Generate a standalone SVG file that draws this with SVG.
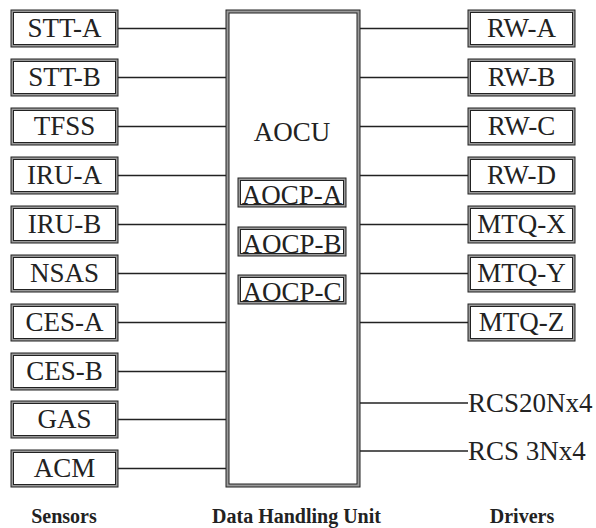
<svg xmlns="http://www.w3.org/2000/svg" width="596" height="528" viewBox="0 0 596 528">
<style>
.o{fill:#9a9a9a;stroke:#222;stroke-width:1}
.i{fill:#fff;stroke:#222;stroke-width:1}
.t{font-family:"Liberation Serif","Times New Roman",serif;font-size:27px;fill:#222;text-anchor:middle}
.tl{font-family:"Liberation Serif","Times New Roman",serif;font-size:27px;fill:#222;text-anchor:start}
.b{font-family:"Liberation Serif","Times New Roman",serif;font-size:20px;font-weight:bold;fill:#222;text-anchor:middle}
.c{stroke:#222;stroke-width:1.6;fill:none}
</style>
<rect width="596" height="528" fill="#fff"/>
<g id="connectors">
<line class="c" x1="118" y1="28.5" x2="226" y2="28.5"/>
<line class="c" x1="118" y1="77.5" x2="226" y2="77.5"/>
<line class="c" x1="118" y1="126.5" x2="226" y2="126.5"/>
<line class="c" x1="118" y1="175.5" x2="226" y2="175.5"/>
<line class="c" x1="118" y1="224.5" x2="226" y2="224.5"/>
<line class="c" x1="118" y1="273.5" x2="226" y2="273.5"/>
<line class="c" x1="118" y1="322.5" x2="226" y2="322.5"/>
<line class="c" x1="118" y1="371.5" x2="226" y2="371.5"/>
<line class="c" x1="118" y1="419.5" x2="226" y2="419.5"/>
<line class="c" x1="118" y1="468.5" x2="226" y2="468.5"/>
<line class="c" x1="360" y1="28.5" x2="468" y2="28.5"/>
<line class="c" x1="360" y1="77.5" x2="468" y2="77.5"/>
<line class="c" x1="360" y1="126.5" x2="468" y2="126.5"/>
<line class="c" x1="360" y1="175.5" x2="468" y2="175.5"/>
<line class="c" x1="360" y1="224.5" x2="468" y2="224.5"/>
<line class="c" x1="360" y1="273.5" x2="468" y2="273.5"/>
<line class="c" x1="360" y1="322.5" x2="468" y2="322.5"/>
<line class="c" x1="360" y1="403" x2="468" y2="403"/>
<line class="c" x1="360" y1="451" x2="468" y2="451"/>
</g>
<g id="dhu">
<rect class="o" x="226" y="10" width="134" height="477"/>
<rect class="i" x="229" y="13" width="128" height="471"/>
<text class="t" x="292" y="141">AOCU</text>
</g>
<g id="aocp-a"><rect class="o" x="238" y="178" width="108" height="29"/><rect class="i" x="240.5" y="180.5" width="103" height="24"/><text class="t" x="292" y="204">AOCP-A</text></g>
<g id="aocp-b"><rect class="o" x="238" y="227" width="108" height="29"/><rect class="i" x="240.5" y="229.5" width="103" height="24"/><text class="t" x="292" y="253">AOCP-B</text></g>
<g id="aocp-c"><rect class="o" x="238" y="275" width="108" height="29"/><rect class="i" x="240.5" y="277.5" width="103" height="24"/><text class="t" x="292" y="301">AOCP-C</text></g>
<g id="stt-a"><rect class="o" x="11" y="10" width="107" height="37"/><rect class="i" x="13.5" y="12.5" width="102" height="32"/><text class="t" x="64.5" y="37">STT-A</text></g>
<g id="stt-b"><rect class="o" x="11" y="59" width="107" height="37"/><rect class="i" x="13.5" y="61.5" width="102" height="32"/><text class="t" x="64.5" y="86">STT-B</text></g>
<g id="tfss"><rect class="o" x="11" y="108" width="107" height="37"/><rect class="i" x="13.5" y="110.5" width="102" height="32"/><text class="t" x="64.5" y="135">TFSS</text></g>
<g id="iru-a"><rect class="o" x="11" y="157" width="107" height="37"/><rect class="i" x="13.5" y="159.5" width="102" height="32"/><text class="t" x="64.5" y="184">IRU-A</text></g>
<g id="iru-b"><rect class="o" x="11" y="206" width="107" height="37"/><rect class="i" x="13.5" y="208.5" width="102" height="32"/><text class="t" x="64.5" y="233">IRU-B</text></g>
<g id="nsas"><rect class="o" x="11" y="255" width="107" height="37"/><rect class="i" x="13.5" y="257.5" width="102" height="32"/><text class="t" x="64.5" y="282">NSAS</text></g>
<g id="ces-a"><rect class="o" x="11" y="304" width="107" height="37"/><rect class="i" x="13.5" y="306.5" width="102" height="32"/><text class="t" x="64.5" y="331">CES-A</text></g>
<g id="ces-b"><rect class="o" x="11" y="353" width="107" height="37"/><rect class="i" x="13.5" y="355.5" width="102" height="32"/><text class="t" x="64.5" y="380">CES-B</text></g>
<g id="gas"><rect class="o" x="11" y="401" width="107" height="37"/><rect class="i" x="13.5" y="403.5" width="102" height="32"/><text class="t" x="64.5" y="428">GAS</text></g>
<g id="acm"><rect class="o" x="11" y="450" width="107" height="37"/><rect class="i" x="13.5" y="452.5" width="102" height="32"/><text class="t" x="64.5" y="477">ACM</text></g>
<g id="rw-a"><rect class="o" x="468" y="10" width="107" height="37"/><rect class="i" x="470.5" y="12.5" width="102" height="32"/><text class="t" x="521.5" y="37">RW-A</text></g>
<g id="rw-b"><rect class="o" x="468" y="59" width="107" height="37"/><rect class="i" x="470.5" y="61.5" width="102" height="32"/><text class="t" x="521.5" y="86">RW-B</text></g>
<g id="rw-c"><rect class="o" x="468" y="108" width="107" height="37"/><rect class="i" x="470.5" y="110.5" width="102" height="32"/><text class="t" x="521.5" y="135">RW-C</text></g>
<g id="rw-d"><rect class="o" x="468" y="157" width="107" height="37"/><rect class="i" x="470.5" y="159.5" width="102" height="32"/><text class="t" x="521.5" y="184">RW-D</text></g>
<g id="mtq-x"><rect class="o" x="468" y="206" width="107" height="37"/><rect class="i" x="470.5" y="208.5" width="102" height="32"/><text class="t" x="521.5" y="233">MTQ-X</text></g>
<g id="mtq-y"><rect class="o" x="468" y="255" width="107" height="37"/><rect class="i" x="470.5" y="257.5" width="102" height="32"/><text class="t" x="521.5" y="282">MTQ-Y</text></g>
<g id="mtq-z"><rect class="o" x="468" y="304" width="107" height="37"/><rect class="i" x="470.5" y="306.5" width="102" height="32"/><text class="t" x="521.5" y="331">MTQ-Z</text></g>
<g id="rcs20"><text class="tl" x="468" y="412">RCS20Nx4</text></g>
<g id="rcs3"><text class="tl" x="468" y="460">RCS 3Nx4</text></g>
<g id="labels">
<text class="b" x="64" y="523">Sensors</text>
<text class="b" x="296.5" y="523">Data Handling Unit</text>
<text class="b" x="522" y="523">Drivers</text>
</g>
</svg>
